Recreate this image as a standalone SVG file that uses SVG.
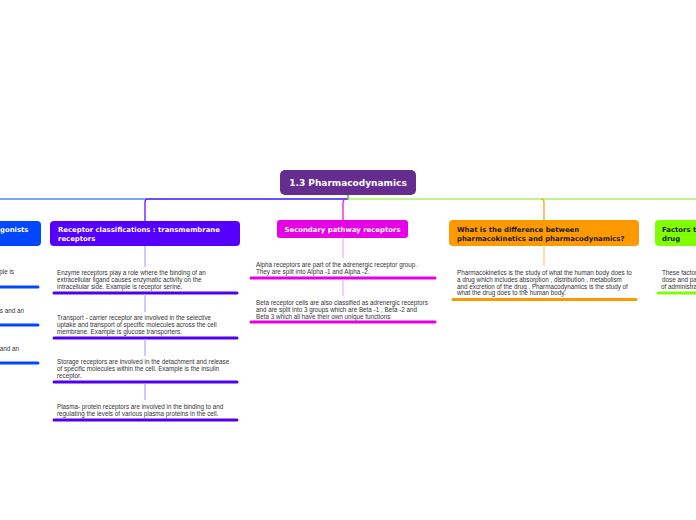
<svg xmlns="http://www.w3.org/2000/svg" width="696" height="520" viewBox="0 0 696 520">
<style>
.nt{font-family:"DejaVu Sans",Verdana,sans-serif;font-weight:bold;font-size:6.9px}
.bt{font-family:"Liberation Sans",Arial,sans-serif;font-size:6.3px;fill:#333}
.w{fill:#fff}
.d{fill:#1a1a1a}
.conn{fill:none;stroke-width:1.2}
.ul{stroke-width:3;stroke-linecap:round}
.sub{stroke-width:1.2}
</style>
<rect width="696" height="520" fill="#fff"/>
<g id="connectors">
<path class="conn" d="M348,195 V199 H-10" stroke="#0047ff"/>
<path class="conn" d="M348,199 H148 Q145,199 145,202 V221" stroke="#5500ff"/>
<path class="conn" d="M348,195 V199 H706" stroke="#80e81e"/>
<path class="conn" d="M347,199 Q343,199 343,203 V220" stroke="#e600e6"/>
<path class="conn" d="M541,199 Q544,199 544,202 V220" stroke="#ff9900"/>
</g>
<g id="center">
<rect x="280" y="170" width="136" height="25" rx="5" fill="#662d91"/>
<text class="nt w" x="348" y="186" text-anchor="middle" style="font-size:9px">1.3 Pharmacodynamics</text>
</g>
<g id="agonists">
<rect x="-10" y="221" width="51" height="25" rx="4" fill="#0047ff"/>
<text class="nt w" x="0" y="232">gonists</text>
<text class="bt" x="14" y="274" text-anchor="end">ple is</text>
<line class="ul" x1="-5" y1="287" x2="38" y2="287" stroke="#0047ff"/>
<text class="bt" x="24" y="313" text-anchor="end">s and an</text>
<line class="ul" x1="-5" y1="325" x2="38" y2="325" stroke="#0047ff"/>
<text class="bt" x="19" y="351" text-anchor="end">and an</text>
<line class="ul" x1="-5" y1="363" x2="38" y2="363" stroke="#0047ff"/>
</g>
<g id="receptor-classifications">
<rect x="50" y="221" width="190" height="25" rx="4" fill="#5500ff"/>
<text class="nt w" x="58" y="232">Receptor classifications : transmembrane</text>
<text class="nt w" x="58" y="241">receptors</text>
<line class="sub" x1="145" y1="246" x2="145" y2="267" stroke="#b9a0ff"/>
<text class="bt" x="57" y="275">Enzyme receptors play a role where the binding of an</text>
<text class="bt" x="57" y="281.8">extracellular ligand causes enzymatic activity on the</text>
<text class="bt" x="57" y="288.6">intracellular side. Example is receptor serine.</text>
<line class="ul" x1="54" y1="293" x2="237" y2="293" stroke="#5000ee"/>
<line class="sub" x1="145" y1="294" x2="145" y2="312" stroke="#b9a0ff"/>
<text class="bt" x="57" y="320">Transport - carrier receptor are involved in the selective</text>
<text class="bt" x="57" y="326.8">uptake and transport of specific molecules across the cell</text>
<text class="bt" x="57" y="333.6">membrane. Example is glucose transporters.</text>
<line class="ul" x1="54" y1="338" x2="237" y2="338" stroke="#5000ee"/>
<line class="sub" x1="145" y1="339" x2="145" y2="356" stroke="#b9a0ff"/>
<text class="bt" x="57" y="364">Storage receptors are involved in the detachment and release</text>
<text class="bt" x="57" y="370.8">of specific molecules within the cell. Example is the insulin</text>
<text class="bt" x="57" y="377.6">receptor.</text>
<line class="ul" x1="54" y1="382" x2="237" y2="382" stroke="#5000ee"/>
<line class="sub" x1="145" y1="383" x2="145" y2="400" stroke="#b9a0ff"/>
<text class="bt" x="57" y="409">Plasma- protein receptors are involved in the binding to and</text>
<text class="bt" x="57" y="415.8">regulating the levels of various plasma proteins in the cell.</text>
<line class="ul" x1="54" y1="420" x2="237" y2="420" stroke="#5000ee"/>
</g>
<g id="secondary-pathway">
<rect x="277" y="220" width="131" height="18" rx="3" fill="#e600e6"/>
<text class="nt w" x="342.5" y="232" text-anchor="middle">Secondary pathway receptors</text>
<line class="sub" x1="343" y1="238" x2="343" y2="258" stroke="#f7a8f7"/>
<text class="bt" x="256" y="267">Alpha receptors are part of the adrenergic receptor group.</text>
<text class="bt" x="256" y="273.8">They are split into Alpha -1 and Alpha -2.</text>
<line class="ul" x1="251" y1="278" x2="435" y2="278" stroke="#e600e6"/>
<line class="sub" x1="343" y1="279" x2="343" y2="296" stroke="#f7a8f7"/>
<text class="bt" x="256" y="305">Beta receptor cells are also classified as adrenergic receptors</text>
<text class="bt" x="256" y="311.8">and are split into 3 groups which are Beta -1 , Beta -2 and</text>
<text class="bt" x="256" y="318.6">Beta 3 which all have their own unique functions</text>
<line class="ul" x1="251" y1="322" x2="435" y2="322" stroke="#e600e6"/>
</g>
<g id="pk-vs-pd">
<rect x="449" y="220" width="190" height="26" rx="4" fill="#ff9900"/>
<text class="nt d" x="457" y="232">What is the difference between</text>
<text class="nt d" x="457" y="241">pharmacokinetics and pharmacodynamics?</text>
<line class="sub" x1="544" y1="246" x2="544" y2="266" stroke="#ffcc80"/>
<text class="bt" x="457" y="275">Pharmacokinetics is the study of what the human body does to</text>
<text class="bt" x="457" y="281.8">a drug which includes absorption , distribution , metabolism</text>
<text class="bt" x="457" y="288.6">and excretion of the drug . Pharmacodynamics is the study of</text>
<text class="bt" x="457" y="295.4">what the drug does to the human body.</text>
<line class="ul" x1="453" y1="299.5" x2="636" y2="299.5" stroke="#ff9900"/>
</g>
<g id="factors">
<rect x="655" y="220" width="60" height="26" rx="4" fill="#80ff00"/>
<text class="nt d" x="662" y="232">Factors t</text>
<text class="nt d" x="662" y="241">drug</text>
<text class="bt" x="662" y="275">These factor</text>
<text class="bt" x="662" y="281.8">dose and pa</text>
<text class="bt" x="661" y="288.6">of administra</text>
<line class="ul" x1="658" y1="293" x2="700" y2="293" stroke="#80ff00"/>
</g>
</svg>
